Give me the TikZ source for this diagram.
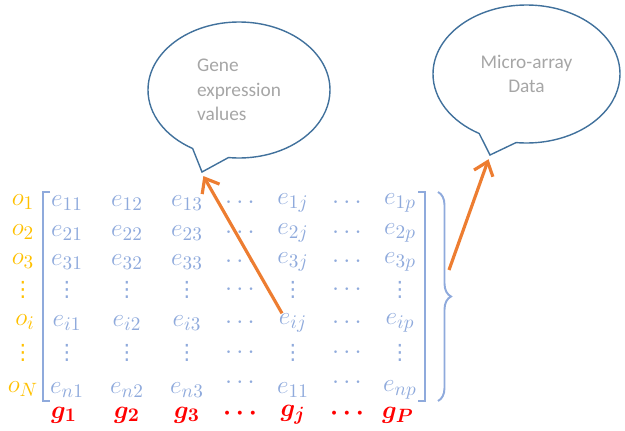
\documentclass[tikz,border=0pt]{standalone}
\usepackage{fontspec}
\newfontfamily\bubblefont{Carlito}
\newfontfamily\dotfont{DejaVu Sans}
\usetikzlibrary{arrows.meta, positioning, shapes.callouts, decorations.pathreplacing}
\DeclareMathSizes{14}{14}{11}{8}

\definecolor{entryblue}{HTML}{8FAADC}
\definecolor{labelgold}{HTML}{FFC000}
\definecolor{genered}{HTML}{FF0000}
\definecolor{arroworange}{HTML}{ED7D31}
\definecolor{bubbleline}{HTML}{41719C}
\definecolor{bubbletext}{HTML}{A6A6A6}

\begin{document}
\begin{tikzpicture}[
    entry/.style={text=entryblue, font=\fontsize{14}{16}\selectfont, inner sep=0pt},
    vdot/.style={text=entryblue, font=\dotfont\fontsize{12}{14}\selectfont, inner sep=0pt},
    obj/.style={text=labelgold, font=\fontsize{14}{16}\selectfont, inner sep=0pt},
    gene/.style={text=genered, font=\fontsize{14}{16}\selectfont\boldmath, inner sep=0pt},
    bubble/.style={ellipse callout, draw=bubbleline, line width=0.8pt, callout pointer arc=24,
        minimum width=3.64cm, minimum height=2.72cm, text=bubbletext,
        font=\bubblefont\fontsize{11}{14}\selectfont},
    arrow/.style={-{Straight Barb[length=2.5mm, width=4mm]}, arroworange, line width=1.8pt, shorten >=2pt},
    bracket/.style={entryblue, line width=1.1pt}
]
\useasboundingbox (0,0) rectangle (12.5,8.6);

% ============ BUBBLES ============
\node[bubble, align=left, callout absolute pointer={(4.04,5.16)}] (genebubble) at (4.78,6.8)
    {Gene\\expression\\values};
\node[bubble, align=center, minimum width=3.74cm, minimum height=2.76cm,
    callout absolute pointer={(9.8,5.5)}] (databubble) at (10.53,7.12) {Micro-array\\Data};

% ============ MATRIX ENTRIES ============
\foreach \row/\y in {1/4.54, 2/3.94, 3/3.36, i/2.14} {
    \node[entry] (e-\row-1) at (1.34,\y) {$e_{\row1}$};
    \node[entry] (e-\row-2) at (2.54,\y) {$e_{\row2}$};
    \node[entry] (e-\row-3) at (3.74,\y) {$e_{\row3}$};
    \node[entry] (c-\row-a) at (4.80,\y) {$\cdots$};
    \node[entry] (e-\row-j) at (5.86,\y) {$e_{\row j}$};
    \node[entry] (c-\row-b) at (6.94,\y) {$\cdots$};
    \node[entry] (e-\row-p) at (8.00,\y) {$e_{\row p}$};
}
\foreach \row/\y in {v/2.80, w/1.54} {
    \node[vdot] (d-\row-1) at (1.34,\y) {⋮};
    \node[vdot] (d-\row-2) at (2.54,\y) {⋮};
    \node[vdot] (d-\row-3) at (3.74,\y) {⋮};
    \node[entry] (c-\row-a) at (4.80,\y) {$\cdots$};
    \node[vdot] (d-\row-j) at (5.86,\y) {⋮};
    \node[entry] (c-\row-b) at (6.94,\y) {$\cdots$};
    \node[vdot] (d-\row-p) at (8.00,\y) {⋮};
}
\node[entry] (e-n-1) at (1.34,0.80) {$e_{n1}$};
\node[entry] (e-n-2) at (2.54,0.80) {$e_{n2}$};
\node[entry] (e-n-3) at (3.74,0.80) {$e_{n3}$};
\node[entry] (c-n-a) at (4.80,0.95) {$\cdots$};
\node[entry] (e-n-j) at (5.86,0.80) {$e_{11}$};
\node[entry] (c-n-b) at (6.94,0.95) {$\cdots$};
\node[entry] (e-n-p) at (8.00,0.80) {$e_{np}$};

% ============ OBJECT LABELS ============
\node[obj] (o1) at (0.46,4.56) {$o_1$};
\node[obj] (o2) at (0.46,3.96) {$o_2$};
\node[obj] (o3) at (0.46,3.38) {$o_3$};
\node[vdot, text=labelgold] (ov) at (0.46,2.80) {⋮};
\node[obj] (oi) at (0.50,2.16) {$o_i$};
\node[vdot, text=labelgold] (ow) at (0.46,1.54) {⋮};
\node[obj] (oN) at (0.46,0.82) {$o_N$};

% ============ GENE LABELS ============
\node[gene] (g1) at (1.28,0.30) {$g_1$};
\node[gene] (g2) at (2.54,0.30) {$g_2$};
\node[gene] (g3) at (3.74,0.30) {$g_3$};
\node[gene] (ga) at (4.80,0.32) {$\cdots$};
\node[gene] (gj) at (5.86,0.30) {$g_j$};
\node[gene] (gb) at (6.94,0.32) {$\cdots$};
\node[gene] (gP) at (7.96,0.30) {$g_P$};

% ============ BRACKETS ============
\draw[bracket] (1.00,4.76) -- (0.86,4.76) -- (0.86,0.58) -- (1.00,0.58);
\draw[bracket] (8.36,4.76) -- (8.50,4.76) -- (8.50,0.58) -- (8.36,0.58);
\draw[bracket, decorate, decoration={brace, amplitude=0.26cm}] (8.76,4.76) -- (8.76,0.58);
\coordinate (bracemid) at (8.98,3.2);

% ============ ARROWS ============
\draw[arrow] ([xshift=-0.22cm]e-i-j.north) -- (genebubble.pointer);
\draw[arrow] (bracemid) -- (databubble.pointer);

\end{tikzpicture}
\end{document}
